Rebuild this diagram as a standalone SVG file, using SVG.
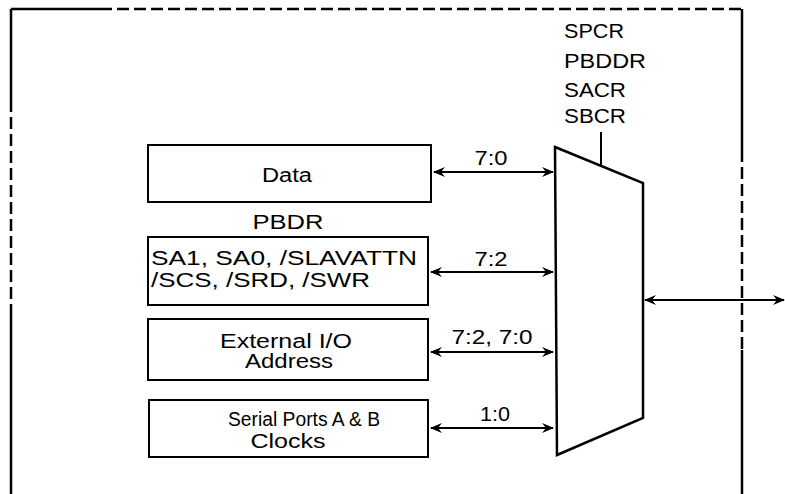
<svg xmlns="http://www.w3.org/2000/svg" width="785" height="494" viewBox="0 0 785 494">
<defs>
<marker id="ah" viewBox="0 0 12 10" refX="11" refY="5" markerWidth="12" markerHeight="10" markerUnits="userSpaceOnUse" orient="auto-start-reverse">
<path d="M0,0 L12,5 L0,10 L4,5 z" fill="#000"/>
</marker>
</defs>
<style>
text{font-family:"Liberation Sans",Arial,sans-serif;fill:#000;font-size:20px}
.box{fill:#fff;stroke:#000;stroke-width:2}
.frame{fill:none;stroke:#000;stroke-width:2.5}
.dash{stroke-dasharray:12,5}
.conn{stroke:#000;stroke-width:2;fill:none;marker-start:url(#ah);marker-end:url(#ah)}
.mid{text-anchor:middle}
</style>
<rect width="785" height="494" fill="#fff"/>
<g id="frame">
<path class="frame" d="M11,9 H100"/>
<path class="frame dash" d="M100,9 H742"/>
<path class="frame" d="M11,9 V100"/>
<path class="frame dash" d="M11,100 V315"/>
<path class="frame" d="M11,315 V494"/>
<path class="frame" d="M742,9 V150"/>
<path class="frame dash" d="M742,150 V350"/>
<path class="frame" d="M742,350 V494"/>
</g>
<g id="regs">
<text x="564" y="38" textLength="60" lengthAdjust="spacingAndGlyphs" font-size="19">SPCR</text>
<text x="564" y="68" textLength="82" lengthAdjust="spacingAndGlyphs" font-size="19">PBDDR</text>
<text x="564" y="97" textLength="62" lengthAdjust="spacingAndGlyphs" font-size="19">SACR</text>
<text x="564" y="123" textLength="62" lengthAdjust="spacingAndGlyphs" font-size="19">SBCR</text>
</g>
<g id="data">
<rect class="box" x="148" y="145" width="283" height="57"/>
<text class="mid" x="287" y="182" textLength="50" lengthAdjust="spacingAndGlyphs">Data</text>
</g>
<g id="pbdr">
<text class="mid" x="288" y="229" textLength="71" lengthAdjust="spacingAndGlyphs" font-size="17">PBDR</text>
</g>
<g id="slave">
<rect class="box" x="148" y="237" width="280" height="68"/>
<text x="151" y="265" textLength="266" lengthAdjust="spacingAndGlyphs">SA1, SA0, /SLAVATTN</text>
<text x="151" y="287" textLength="219" lengthAdjust="spacingAndGlyphs">/SCS, /SRD, /SWR</text>
</g>
<g id="extio">
<rect class="box" x="148" y="319" width="280" height="61"/>
<text class="mid" x="286" y="348" textLength="132" lengthAdjust="spacingAndGlyphs">External I/O</text>
<text class="mid" x="289" y="368" textLength="88" lengthAdjust="spacingAndGlyphs">Address</text>
</g>
<g id="serial">
<rect class="box" x="149" y="400" width="279" height="57"/>
<text class="mid" x="304" y="426" textLength="152" lengthAdjust="spacingAndGlyphs">Serial Ports A &amp; B</text>
<text class="mid" x="288" y="448" textLength="75" lengthAdjust="spacingAndGlyphs">Clocks</text>
</g>
<g id="mux">
<path d="M555,147 L643,183 L643,418 L557,455 Z" fill="#fff" stroke="#000" stroke-width="2.5" stroke-linejoin="miter"/>
</g>
<g id="connectors">
<line x1="601" y1="132" x2="601" y2="165" stroke="#000" stroke-width="2"/>
<line class="conn" x1="434" y1="172" x2="553" y2="172"/>
<line class="conn" x1="431" y1="272" x2="553" y2="272"/>
<line class="conn" x1="431" y1="352" x2="553" y2="352"/>
<line class="conn" x1="431" y1="428" x2="553" y2="428"/>
<line class="conn" x1="645" y1="300" x2="784" y2="300"/>
<text class="mid" x="491" y="165" textLength="33" lengthAdjust="spacingAndGlyphs">7:0</text>
<text class="mid" x="491" y="266" textLength="33" lengthAdjust="spacingAndGlyphs">7:2</text>
<text class="mid" x="492" y="344" textLength="81" lengthAdjust="spacingAndGlyphs">7:2, 7:0</text>
<text class="mid" x="495" y="421" textLength="30" lengthAdjust="spacingAndGlyphs">1:0</text>
</g>
</svg>
